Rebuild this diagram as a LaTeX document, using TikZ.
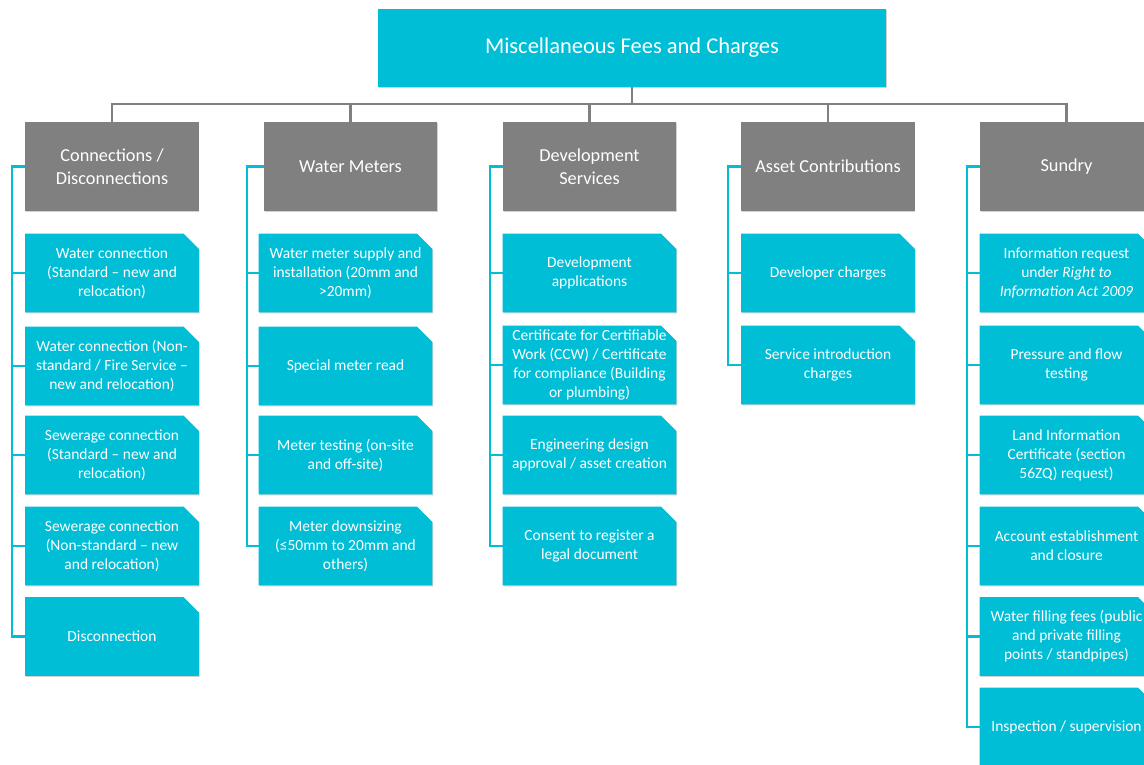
\documentclass[tikz,border=0pt]{standalone}
\usepackage{fontspec}
\setmainfont{Carlito}
\usetikzlibrary{shadows, backgrounds}

\definecolor{feecyan}{HTML}{00BED6}
\definecolor{feegray}{HTML}{808080}

\tikzset{
  softshadow/.style={drop shadow={shadow xshift=0.5pt, shadow yshift=-0.7pt, opacity=0.18, fill=black}},
  titlebox/.style={rectangle, fill=feecyan, text=white, align=center, softshadow,
    minimum width=12.7cm, minimum height=1.95cm, font=\fontsize{16}{19}\selectfont},
  groupbox/.style={rectangle, fill=feegray, text=white, align=center, softshadow,
    minimum width=4.325cm, minimum height=2.225cm, font=\fontsize{13}{16.3}\selectfont},
  itembox/.style={rectangle, text=white, align=center, inner sep=0pt,
    minimum width=4.325cm, minimum height=1.95cm, font=\fontsize{11}{13.5}\selectfont},
  snipfill/.style={fill=feecyan, softshadow},
  treeline/.style={draw=feegray, line width=2pt},
  branchline/.style={draw=feecyan, line width=2pt}
}

% item box with the snipped top right corner
\newcommand{\feeitem}[3]{%
  \node[itembox] (#1) at (#2) {#3};
  \begin{scope}[on background layer]
    \fill[snipfill] (#1.south west) -- (#1.north west)
      -- ([xshift=-0.38cm]#1.north east) -- ([yshift=-0.38cm]#1.north east)
      -- (#1.south east) -- cycle;
  \end{scope}}

\begin{document}
\begin{tikzpicture}[x=0.025cm, y=-0.025cm]
  \useasboundingbox (0,0) rectangle (1144,764);

  % Title
  \node[titlebox] (misc) at (632, 48) {Miscellaneous Fees and Charges};

  % Group headers
  \node[groupbox] (conn)   at (112, 166.5)    {Connections /\\Disconnections};
  \node[groupbox] (meter)  at (350.5, 166.5)  {Water Meters};
  \node[groupbox] (dev)    at (589.5, 166.5)  {Development\\Services};
  \node[groupbox] (asset)  at (828, 166.5)    {Asset Contributions};
  \node[groupbox] (sundry) at (1066.5, 166.5) {Sundry};

  % Connections / Disconnections
  \feeitem{conn-1}{112, 273}{Water connection\\(Standard -- new and\\relocation)}
  \feeitem{conn-2}{112, 366}{Water connection (Non-\\standard / Fire Service --\\new and relocation)}
  \feeitem{conn-3}{112, 455}{Sewerage connection\\(Standard -- new and\\relocation)}
  \feeitem{conn-4}{112, 546}{Sewerage connection\\(Non-standard -- new\\and relocation)}
  \feeitem{conn-5}{112, 636.5}{Disconnection}

  % Water Meters
  \feeitem{meter-1}{345.5, 273}{Water meter supply and\\installation (20mm and\\>20mm)}
  \feeitem{meter-2}{345.5, 366}{Special meter read}
  \feeitem{meter-3}{345.5, 455}{Meter testing (on-site\\and off-site)}
  \feeitem{meter-4}{345.5, 546}{Meter downsizing\\(≤50mm to 20mm and\\others)}

  % Development Services
  \feeitem{dev-1}{589.5, 273}{Development\\applications}
  \feeitem{dev-2}{589.5, 365}{Certificate for Certifiable\\Work (CCW) / Certificate\\for compliance (Building\\or plumbing)}
  \feeitem{dev-3}{589.5, 455}{Engineering design\\approval / asset creation}
  \feeitem{dev-4}{589.5, 546}{Consent to register a\\legal document}

  % Asset Contributions
  \feeitem{asset-1}{828, 273}{Developer charges}
  \feeitem{asset-2}{828, 365}{Service introduction\\charges}

  % Sundry
  \feeitem{sundry-1}{1066.5, 273}{Information request\\under \textit{Right to}\\\textit{Information Act 2009}}
  \feeitem{sundry-2}{1066.5, 365}{Pressure and flow\\testing}
  \feeitem{sundry-3}{1066.5, 455}{Land Information\\Certificate (section\\56ZQ) request)}
  \feeitem{sundry-4}{1066.5, 546}{Account establishment\\and closure}
  \feeitem{sundry-5}{1066.5, 636.5}{Water filling fees (public\\and private filling\\points / standpipes)}
  \feeitem{sundry-6}{1066.5, 727}{Inspection / supervision}

  % Grey tree from the title
  \coordinate (bus) at (632, 104);
  \draw[treeline] (misc.south) -- (bus);
  \foreach \g in {conn, meter, dev, asset, sundry}
    \draw[treeline] (bus) -| (\g.north);

  % Cyan brackets
  \coordinate (conn-bus)   at (12, 166.5);
  \coordinate (meter-bus)  at (247, 166.5);
  \coordinate (dev-bus)    at (490, 166.5);
  \coordinate (asset-bus)  at (728, 166.5);
  \coordinate (sundry-bus) at (967, 166.5);
  \draw[branchline] (conn.west) -- (conn-bus) |- (conn-5.west);
  \draw[branchline] (meter.west) -- (meter-bus) |- (meter-4.west);
  \draw[branchline] (dev.west) -- (dev-bus) |- (dev-4.west);
  \draw[branchline] (asset.west) -- (asset-bus) |- (asset-2.west);
  \draw[branchline] (sundry.west) -- (sundry-bus) |- (sundry-6.west);
  \foreach \i in {1,...,4}
    \draw[branchline] (conn-bus |- conn-\i.west) -- (conn-\i.west);
  \foreach \i in {1,...,3}
    \draw[branchline] (meter-bus |- meter-\i.west) -- (meter-\i.west);
  \foreach \i in {1,...,3}
    \draw[branchline] (dev-bus |- dev-\i.west) -- (dev-\i.west);
  \draw[branchline] (asset-bus |- asset-1.west) -- (asset-1.west);
  \foreach \i in {1,...,5}
    \draw[branchline] (sundry-bus |- sundry-\i.west) -- (sundry-\i.west);
\end{tikzpicture}
\end{document}
